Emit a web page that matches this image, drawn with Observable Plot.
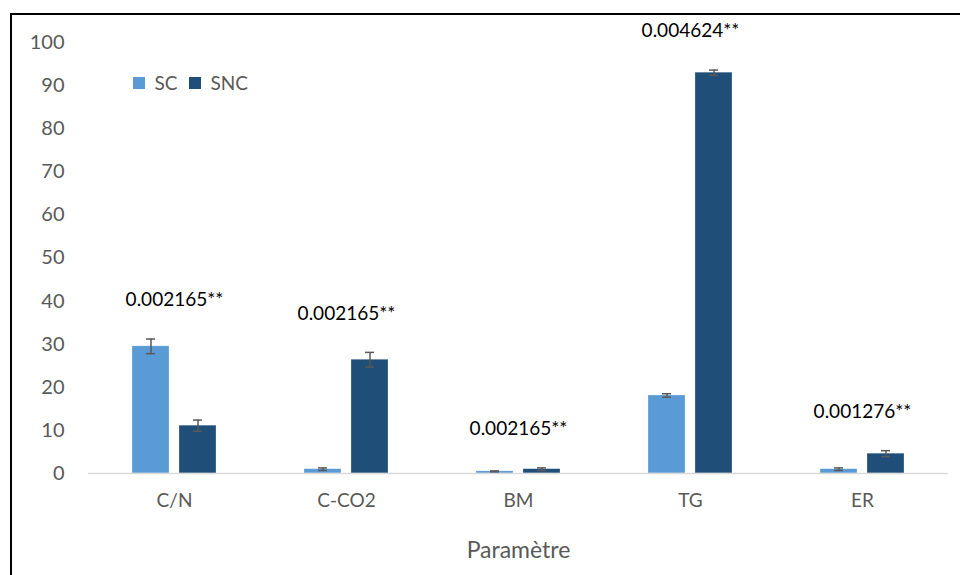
<!DOCTYPE html>
<html>
<head>
<meta charset="utf-8">
<script src="https://cdn.jsdelivr.net/npm/d3@7"></script>
<script src="https://cdn.jsdelivr.net/npm/@observablehq/plot@0.6"></script>
<style>
  html, body { margin: 0; padding: 0; background: #fff; }
  #wrap { position: relative; width: 960px; height: 575px; overflow: hidden; font-family: Lato, "Open Sans", sans-serif; }
  #frame { position: absolute; left: 10px; top: 13px; width: 1000px; height: 700px; border: 2px solid #000; box-sizing: border-box; }
  #chart { position: absolute; left: 0; top: 0; }
  #legend { position: absolute; left: 133px; top: 66px; }
  #legend span { margin-right: 0.6em !important; }
</style>
</head>
<body>
<div id="wrap">
  <div id="frame"></div>
  <div id="chart"></div>
  <div id="legend"></div>
</div>
<script>
const categories = ["C/N", "C-CO2", "BM", "TG", "ER"];
const series = ["SC", "SNC"];
const scValues = [29.5, 1.0, 0.5, 18.1, 1.0];
const scErrors = [1.7, 0.3, 0.1, 0.4, 0.3];
const sncValues = [11.1, 26.4, 1.0, 93.0, 4.6];
const sncErrors = [1.3, 1.7, 0.3, 0.6, 0.7];
const pLabels = ["0.002165**", "0.002165**", "0.002165**", "0.004624**", "0.001276**"];
const yTicks = [0, 10, 20, 30, 40, 50, 60, 70, 80, 90, 100];
const colors = ["#5B9BD5", "#1F4E79"];

const rows = [];
categories.forEach((c, i) => {
  rows.push({cat: c, series: "SC", value: scValues[i], err: scErrors[i]});
  rows.push({cat: c, series: "SNC", value: sncValues[i], err: sncErrors[i]});
});
const annots = categories.map((c, i) => ({
  cat: c,
  label: pLabels[i],
  top: Math.max(scValues[i] + scErrors[i], sncValues[i] + sncErrors[i])
}));

const chart = Plot.plot({
  width: 960,
  height: 575,
  marginLeft: 87,
  marginRight: 12,
  marginTop: 42,
  marginBottom: 102,
  style: {fontFamily: "Lato, 'Open Sans', sans-serif", background: "transparent", overflow: "visible"},
  fx: {domain: categories, padding: 0, label: "Paramètre", labelAnchor: "center", labelOffset: 84, tickSize: 0, tickPadding: 20, axis: "bottom"},
  x: {domain: series, axis: null, paddingInner: 0.208, paddingOuter: 0.896},
  y: {domain: [0, 100], ticks: yTicks, tickSize: 0, tickPadding: 24, label: null},
  color: {domain: series, range: colors},
  marks: [
    Plot.barY(rows, {fx: "cat", x: "series", y: "value", fill: "series", stroke: "#ffffff", strokeOpacity: 0.5, strokeWidth: 0.5}),
    Plot.ruleY([0], {stroke: "#d9d9d9", strokeWidth: 1.5}),
    Plot.ruleX(rows, {fx: "cat", x: "series", y1: d => d.value - d.err, y2: d => d.value + d.err, stroke: "#595959", strokeWidth: 1.5}),
    Plot.tickY(rows, {fx: "cat", x: "series", y: d => d.value + d.err, stroke: "#595959", strokeWidth: 1.5, insetLeft: 14, insetRight: 14}),
    Plot.tickY(rows, {fx: "cat", x: "series", y: d => d.value - d.err, stroke: "#595959", strokeWidth: 1.5, insetLeft: 14, insetRight: 14}),
    Plot.text(annots, {fx: "cat", y: d => d.top + 9, text: "label", fill: "#000", fontSize: 19})
  ]
});
const yl = chart.querySelector("[aria-label='y-axis tick label']");
if (yl) { yl.setAttribute("font-size", 20); yl.setAttribute("fill", "#595959"); }
const fl = chart.querySelector("[aria-label='fx-axis tick label']");
if (fl) { fl.setAttribute("font-size", 19); fl.setAttribute("fill", "#595959"); }
const flab = chart.querySelector("[aria-label='fx-axis label']");
if (flab) { flab.setAttribute("font-size", 23); flab.setAttribute("fill", "#595959"); }
document.getElementById("chart").appendChild(chart);

const legend = Plot.legend({
  color: {domain: series, range: colors},
  legend: "swatches",
  swatchSize: 12,
  style: {fontFamily: "Lato, 'Open Sans', sans-serif", fontSize: "19px", color: "#595959"}
});
document.getElementById("legend").appendChild(legend);
</script>
</body>
</html>
